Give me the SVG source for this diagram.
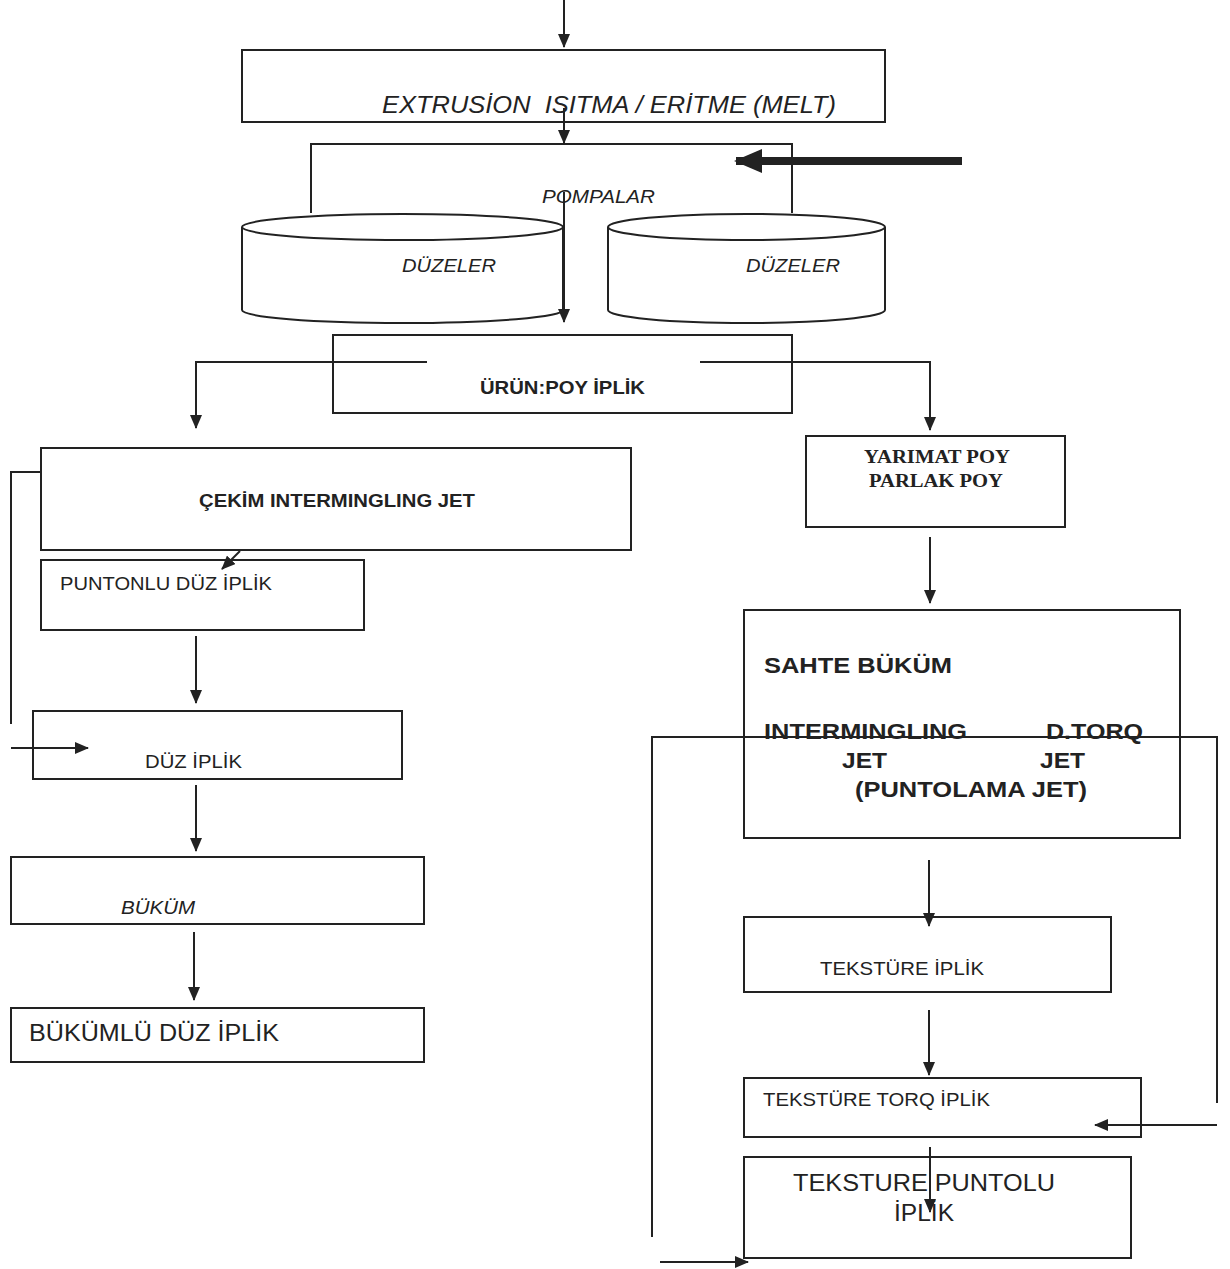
<svg xmlns="http://www.w3.org/2000/svg" width="1230" height="1269" viewBox="0 0 1230 1269">
<style>
.b{fill:none;stroke:#222;stroke-width:2}
.c{fill:none;stroke:#222;stroke-width:2}
.t{font-family:"Liberation Sans",Arial,sans-serif;fill:#222}
.i{font-style:italic}
.bd{font-weight:bold}
.s{font-family:"Liberation Serif","Times New Roman",serif;font-weight:bold;fill:#222}
</style>
<defs>
<marker id="ah" markerWidth="14" markerHeight="12" refX="13" refY="6" orient="auto" markerUnits="userSpaceOnUse" viewBox="0 0 14 12">
<path d="M0,0 L14,6 L0,12 Z" fill="#222"/>
</marker>
<marker id="ah2" markerWidth="28" markerHeight="24" refX="26" refY="12" orient="auto" markerUnits="userSpaceOnUse" viewBox="0 0 28 24">
<path d="M0,0 L28,12 L0,24 Z" fill="#222"/>
</marker>
</defs>
<rect width="1230" height="1269" fill="#fff"/>

<g id="extrusion">
<rect class="b" x="242" y="50" width="643" height="72"/>
<text class="t i" x="382" y="113" font-size="23" textLength="454" lengthAdjust="spacingAndGlyphs" xml:space="preserve">EXTRUSİON  ISITMA / ERİTME (MELT)</text>
</g>
<g id="pompalar">
<path class="b" d="M311,213 V144 H792 V213"/>
<text class="t i" x="542" y="203" font-size="19" textLength="113" lengthAdjust="spacingAndGlyphs">POMPALAR</text>
</g>
<g id="duzeler1">
<path d="M242,227 V310 A160.5,13 0 0 0 563,310 V227" fill="#fff" stroke="#222" stroke-width="2"/>
<ellipse cx="402.5" cy="227" rx="160.5" ry="13" fill="#fff" stroke="#222" stroke-width="2"/>
<text class="t i" x="402" y="272" font-size="19" textLength="94" lengthAdjust="spacingAndGlyphs">DÜZELER</text>
</g>
<g id="duzeler2">
<path d="M608,227 V310 A138.5,13 0 0 0 885,310 V227" fill="#fff" stroke="#222" stroke-width="2"/>
<ellipse cx="746.5" cy="227" rx="138.5" ry="13" fill="#fff" stroke="#222" stroke-width="2"/>
<text class="t i" x="746" y="272" font-size="19" textLength="94" lengthAdjust="spacingAndGlyphs">DÜZELER</text>
</g>
<g id="urun">
<rect class="b" x="333" y="335" width="459" height="78"/>
<text class="t bd" x="480" y="394" font-size="18" textLength="165" lengthAdjust="spacingAndGlyphs">ÜRÜN:POY İPLİK</text>
</g>
<g id="cekim">
<rect class="b" x="41" y="448" width="590" height="102"/>
<text class="t bd" x="199" y="507" font-size="18" textLength="276" lengthAdjust="spacingAndGlyphs">ÇEKİM INTERMINGLING JET</text>
</g>
<g id="puntonlu">
<rect class="b" x="41" y="560" width="323" height="70"/>
<text class="t" x="60" y="590" font-size="18" textLength="212" lengthAdjust="spacingAndGlyphs">PUNTONLU DÜZ İPLİK</text>
</g>
<g id="duz">
<rect class="b" x="33" y="711" width="369" height="68"/>
<text class="t" x="145" y="768" font-size="18" textLength="97" lengthAdjust="spacingAndGlyphs">DÜZ İPLİK</text>
</g>
<g id="bukum">
<rect class="b" x="11" y="857" width="413" height="67"/>
<text class="t i" x="121" y="914" font-size="18" textLength="74" lengthAdjust="spacingAndGlyphs">BÜKÜM</text>
</g>
<g id="bukumlu">
<rect class="b" x="11" y="1008" width="413" height="54"/>
<text class="t" x="29" y="1041" font-size="24" textLength="250" lengthAdjust="spacingAndGlyphs">BÜKÜMLÜ DÜZ İPLİK</text>
</g>
<g id="yarimat">
<rect class="b" x="806" y="436" width="259" height="91"/>
<text class="s" x="864" y="463" font-size="18" textLength="146" lengthAdjust="spacingAndGlyphs">YARIMAT POY</text>
<text class="s" x="869" y="487" font-size="18" textLength="134" lengthAdjust="spacingAndGlyphs">PARLAK POY</text>
</g>
<g id="sahte">
<rect class="b" x="744" y="610" width="436" height="228"/>
<text class="t bd" x="764" y="673" font-size="22" textLength="188" lengthAdjust="spacingAndGlyphs">SAHTE BÜKÜM</text>
<text class="t bd" x="764" y="739" font-size="22" textLength="203" lengthAdjust="spacingAndGlyphs">INTERMINGLING</text>
<text class="t bd" x="1046" y="739" font-size="22" textLength="97" lengthAdjust="spacingAndGlyphs">D.TORQ</text>
<text class="t bd" x="842" y="768" font-size="22" textLength="45" lengthAdjust="spacingAndGlyphs">JET</text>
<text class="t bd" x="1040" y="768" font-size="22" textLength="45" lengthAdjust="spacingAndGlyphs">JET</text>
<text class="t bd" x="855" y="797" font-size="22" textLength="232" lengthAdjust="spacingAndGlyphs">(PUNTOLAMA JET)</text>
</g>
<g id="teksture">
<rect class="b" x="744" y="917" width="367" height="75"/>
<text class="t" x="820" y="975" font-size="18" textLength="164" lengthAdjust="spacingAndGlyphs">TEKSTÜRE İPLİK</text>
</g>
<g id="torq">
<rect class="b" x="744" y="1078" width="397" height="59"/>
<text class="t" x="763" y="1106" font-size="18" textLength="227" lengthAdjust="spacingAndGlyphs">TEKSTÜRE TORQ İPLİK</text>
</g>
<g id="puntolu">
<rect class="b" x="744" y="1157" width="387" height="101"/>
<text class="t" x="793" y="1191" font-size="24" textLength="262" lengthAdjust="spacingAndGlyphs">TEKSTURE PUNTOLU</text>
<text class="t" x="894" y="1221" font-size="24" textLength="60" lengthAdjust="spacingAndGlyphs">İPLİK</text>
</g>

<g id="connectors">
<line class="c" x1="564" y1="0" x2="564" y2="47" marker-end="url(#ah)"/>
<line class="c" x1="564" y1="108" x2="564" y2="143" marker-end="url(#ah)"/>
<line x1="962" y1="161" x2="736" y2="161" stroke="#222" stroke-width="8" marker-end="url(#ah2)"/>
<line class="c" x1="564" y1="192" x2="564" y2="322" marker-end="url(#ah)"/>
<path class="c" d="M427,362 H196 V428" marker-end="url(#ah)"/>
<path class="c" d="M700,362 H930 V430" marker-end="url(#ah)"/>
<line class="c" x1="240" y1="551" x2="222" y2="569" marker-end="url(#ah)"/>
<path class="c" d="M41,472 H11 V724"/>
<line class="c" x1="11" y1="748" x2="88" y2="748" marker-end="url(#ah)"/>
<line class="c" x1="196" y1="636" x2="196" y2="703" marker-end="url(#ah)"/>
<line class="c" x1="196" y1="785" x2="196" y2="851" marker-end="url(#ah)"/>
<line class="c" x1="194" y1="932" x2="194" y2="1000" marker-end="url(#ah)"/>
<line class="c" x1="930" y1="537" x2="930" y2="603" marker-end="url(#ah)"/>
<path class="c" d="M652,1237 V737 H1217 V1103"/>
<line class="c" x1="1217" y1="1125" x2="1095" y2="1125" marker-end="url(#ah)"/>
<line class="c" x1="660" y1="1262" x2="748" y2="1262" marker-end="url(#ah)"/>
<line class="c" x1="929" y1="860" x2="929" y2="926" marker-end="url(#ah)"/>
<line class="c" x1="929" y1="1010" x2="929" y2="1075" marker-end="url(#ah)"/>
<line class="c" x1="930" y1="1147" x2="930" y2="1212" marker-end="url(#ah)"/>
</g>
</svg>
